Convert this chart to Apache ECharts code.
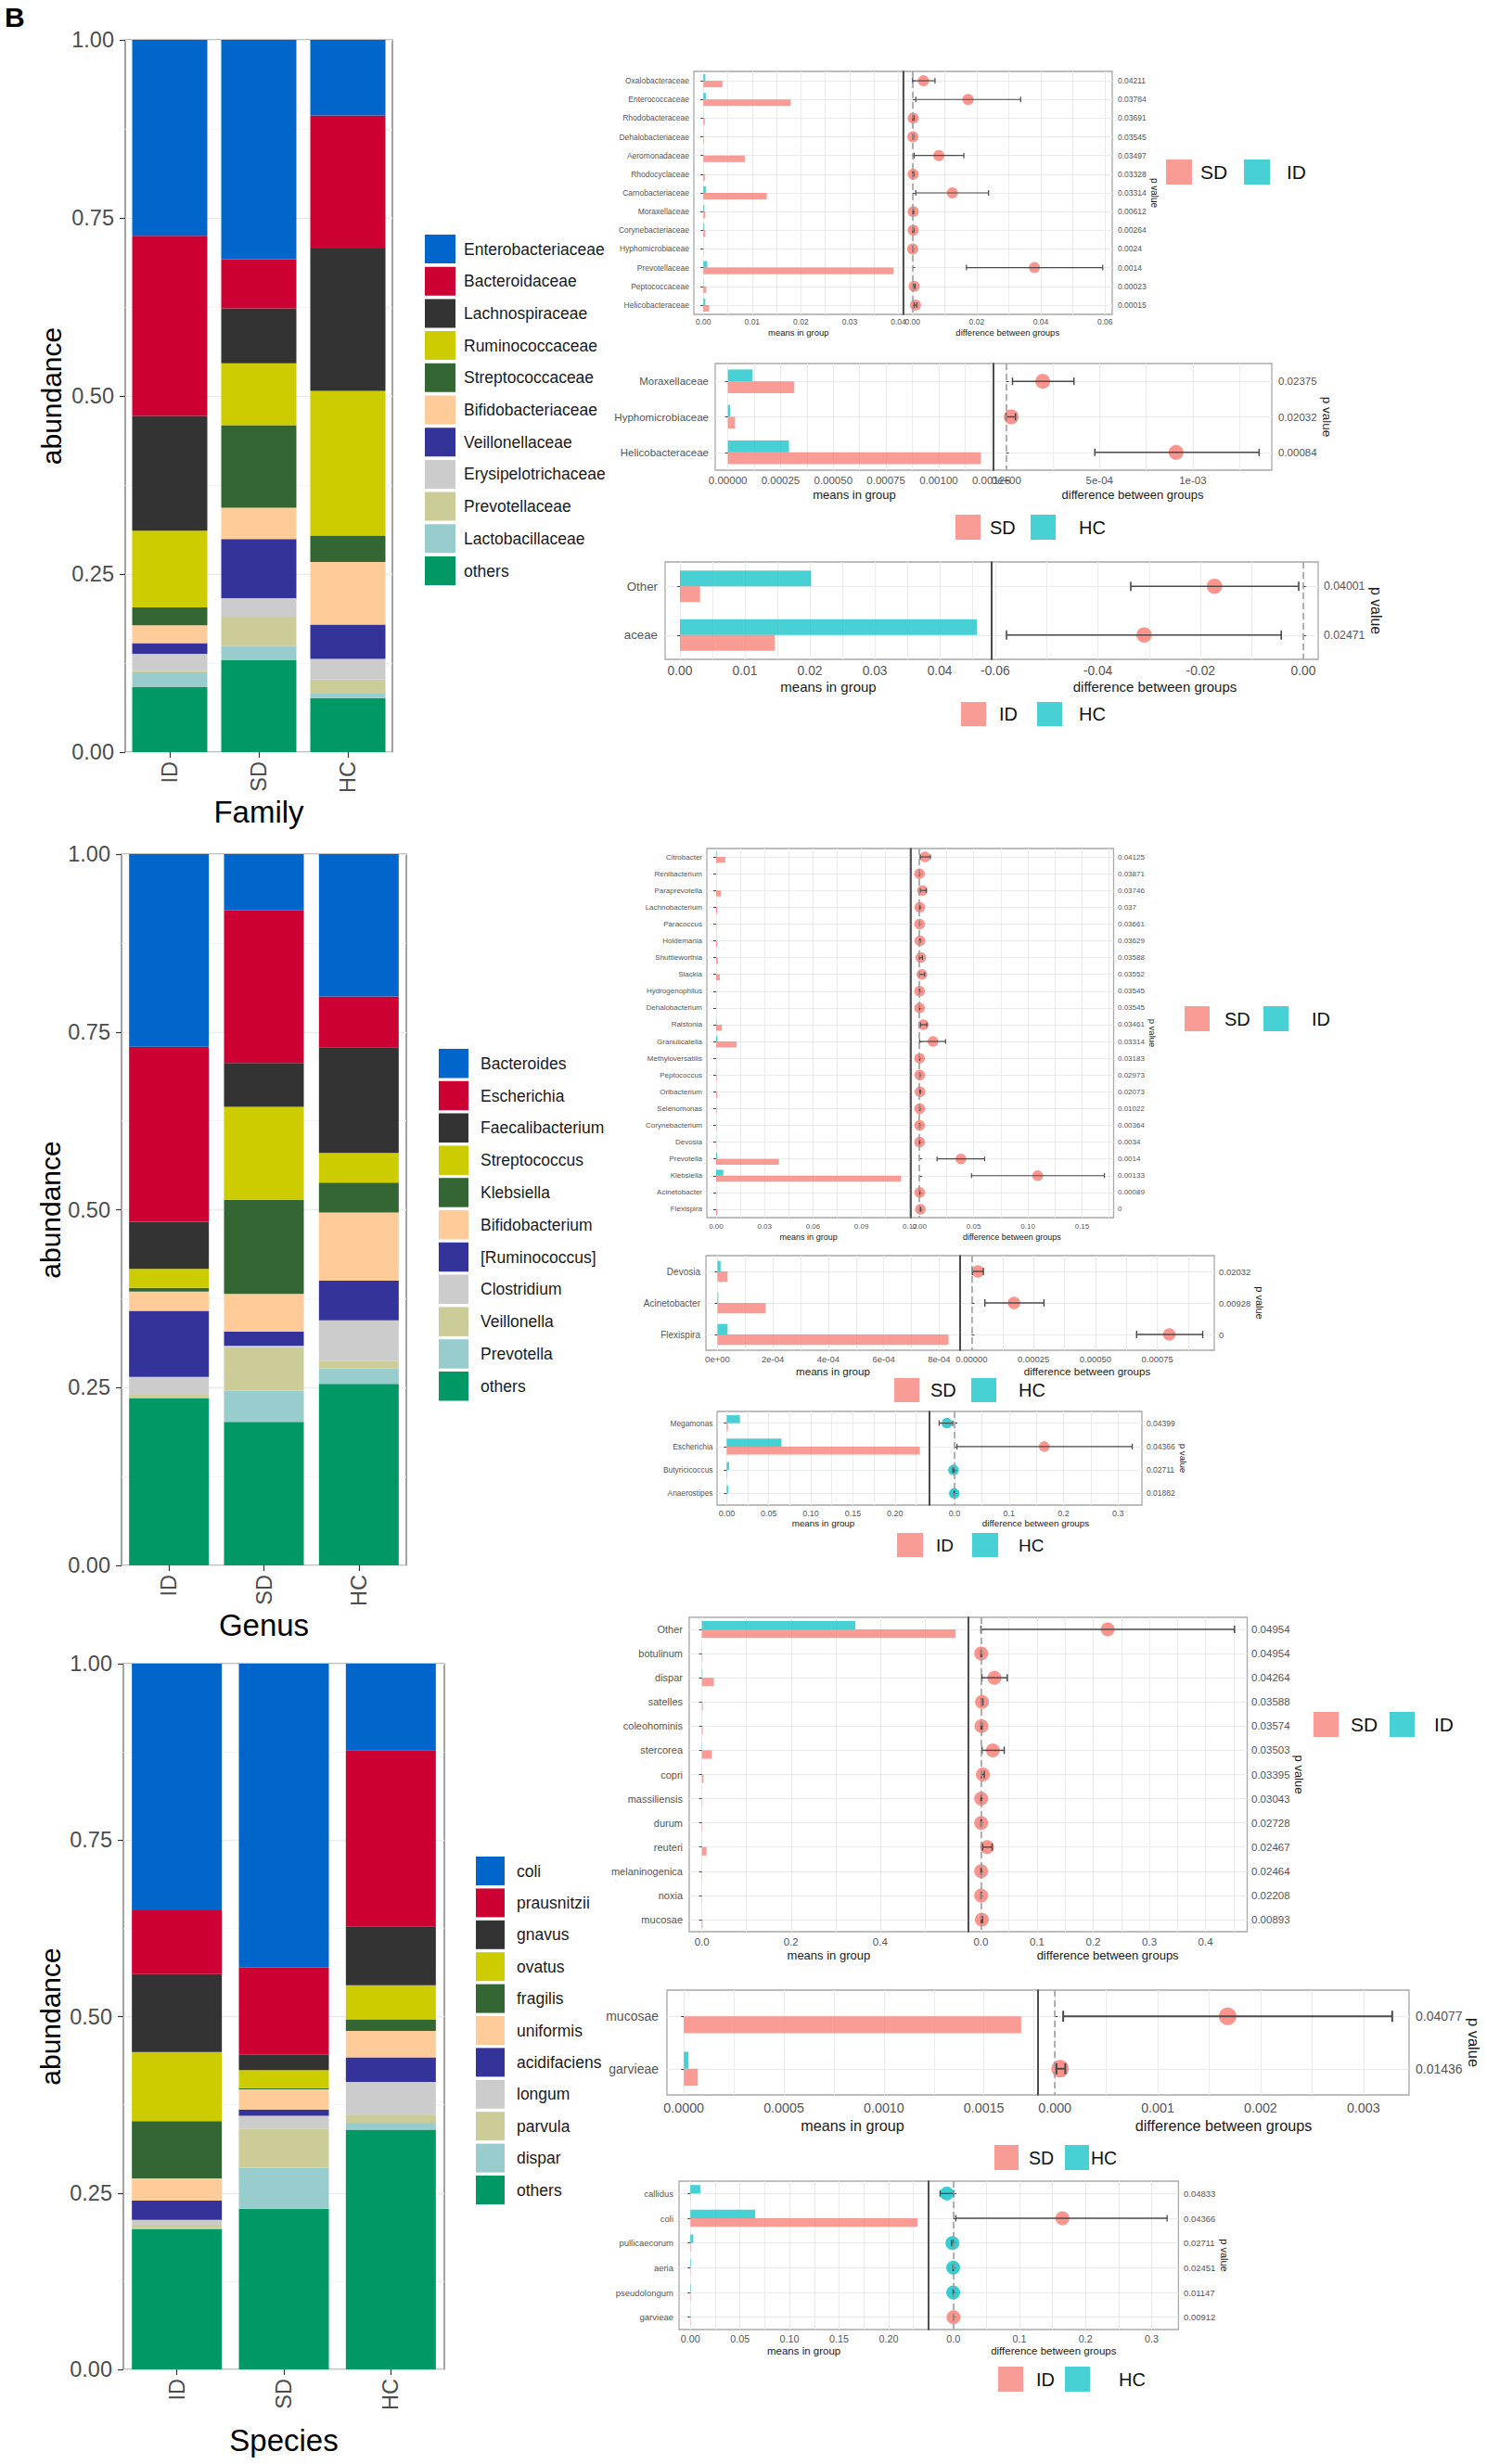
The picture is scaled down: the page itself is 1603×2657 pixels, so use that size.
<!DOCTYPE html>
<html><head><meta charset="utf-8">
<script src="https://cdn.jsdelivr.net/npm/echarts@6/dist/echarts.min.js"></script>
<style>html,body{margin:0;padding:0;background:#fff}#c{width:1603px;height:2657px}</style>
</head><body><div id="c"></div>
<script>
// ===================== DATA =====================
const groups = ['ID', 'SD', 'HC'];

// Family stacked bars (bottom -> top)
const fam_taxa = ['others','Lactobacillaceae','Prevotellaceae','Erysipelotrichaceae','Veillonellaceae','Bifidobacteriaceae','Streptococcaceae','Ruminococcaceae','Lachnospiraceae','Bacteroidaceae','Enterobacteriaceae'];
const fam_ID = [0.091, 0.021, 0.002, 0.024, 0.015, 0.025, 0.025, 0.108, 0.161, 0.253, 0.275];
const fam_SD = [0.129, 0.020, 0.041, 0.026, 0.083, 0.044, 0.116, 0.087, 0.077, 0.069, 0.308];
const fam_HC = [0.076, 0.006, 0.020, 0.029, 0.048, 0.088, 0.037, 0.203, 0.200, 0.187, 0.106];

// Genus stacked bars (bottom -> top)
const gen_taxa = ['others','Prevotella','Veillonella','Clostridium','[Ruminococcus]','Bifidobacterium','Klebsiella','Streptococcus','Faecalibacterium','Escherichia','Bacteroides'];
const gen_ID = [0.235, 0.001, 0.004, 0.025, 0.093, 0.027, 0.005, 0.027, 0.066, 0.246, 0.271];
const gen_SD = [0.2016, 0.0443, 0.0607, 0.0022, 0.0200, 0.0529, 0.1323, 0.1307, 0.0615, 0.2145, 0.0793];
const gen_HC = [0.2552, 0.0214, 0.0107, 0.0572, 0.0558, 0.0958, 0.0421, 0.0415, 0.1487, 0.0715, 0.2001];

// Species stacked bars (bottom -> top)
const sp_taxa = ['others','dispar','parvula','longum','acidifaciens','uniformis','fragilis','ovatus','gnavus','prausnitzii','coli'];
const sp_ID = [0.1992, 0.0008, 0.005, 0.007, 0.0271, 0.0316, 0.0812, 0.0977, 0.1105, 0.0902, 0.3497];
const sp_SD = [0.2278, 0.0579, 0.0549, 0.0188, 0.0090, 0.0286, 0.0015, 0.0256, 0.0218, 0.1233, 0.4308];
const sp_HC = [0.3398, 0.0098, 0.0113, 0.0466, 0.0346, 0.0376, 0.0165, 0.0482, 0.0834, 0.2496, 0.1226];

// ---- Family: SD vs ID ----
const famA_names = ['Oxalobacteraceae','Enterococcaceae','Rhodobacteraceae','Dehalobacteriaceae','Aeromonadaceae','Rhodocyclaceae','Carnobacteriaceae','Moraxellaceae','Corynebacteriaceae','Hyphomicrobiaceae','Prevotellaceae','Peptococcaceae','Helicobacteraceae'];
const famA_p = ['0.04211','0.03784','0.03691','0.03545','0.03497','0.03328','0.03314','0.00612','0.00264','0.0024','0.0014','0.00023','0.00015'];
const famA_SD = [0.0039, 0.0179, 0.0003, 0.0001, 0.0085, 0.0003, 0.0130, 0.0004, 0.0004, 0.00005, 0.0390, 0.0006, 0.0012];
const famA_ID = [0.0004, 0.0005, 0.00003, 0.00001, 0.00002, 0.00002, 0.0005, 0.0002, 0.0002, 0.00001, 0.0008, 0.00005, 0.0004];
const famA_diff = [0.0034, 0.0173, 0.0002, 0.0001, 0.0082, 0.0002, 0.0124, 0.0002, 0.0002, 0.00005, 0.0380, 0.0005, 0.0009];
const famA_lo = [0.0000, 0.0010, 0.0000, 0.0000, 0.0005, 0.0000, 0.0010, 0.0001, 0.0000, 0.0000, 0.0168, 0.0003, 0.0005];
const famA_hi = [0.0070, 0.0337, 0.0005, 0.0003, 0.0160, 0.0004, 0.0237, 0.0003, 0.0004, 0.0001, 0.0593, 0.0008, 0.0013];
const famA_dot = ['SD','SD','SD','SD','SD','SD','SD','SD','SD','SD','SD','SD','SD'];
const famA_meanTicks = [0, 0.01, 0.02, 0.03, 0.04];
const famA_meanLabels = ['0.00','0.01','0.02','0.03','0.04'];
const famA_diffTicks = [0, 0.02, 0.04, 0.06];
const famA_diffLabels = ['0.00','0.02','0.04','0.06'];

// ---- Family: SD vs HC ----
const famB_names = ['Moraxellaceae','Hyphomicrobiaceae','Helicobacteraceae'];
const famB_p = ['0.02375','0.02032','0.00084'];
const famB_SD = [0.000315, 0.000034, 0.00120];
const famB_HC = [0.000117, 0.000011, 0.00029];
const famB_diff = [0.000196, 0.000027, 0.00091];
const famB_lo = [0.000034, 0.0, 0.000475];
const famB_hi = [0.000363, 0.00005, 0.001355];
const famB_dot = ['SD','SD','SD'];
const famB_meanTicks = [0, 0.00025, 0.0005, 0.00075, 0.001, 0.00125];
const famB_meanLabels = ['0.00000','0.00025','0.00050','0.00075','0.00100','0.00125'];
const famB_diffTicks = [0, 0.0005, 0.001];
const famB_diffLabels = ['0e+00','5e-04','1e-03'];

// ---- Family: ID vs HC ----
const famC_names = ['Other','aceae'];
const famC_p = ['0.04001','0.02471'];
const famC_ID = [0.0031, 0.0146];
const famC_HC = [0.0202, 0.0457];
const famC_diff = [-0.0173, -0.0310];
const famC_lo = [-0.0336, -0.0578];
const famC_hi = [-0.0009, -0.0043];
const famC_dot = ['ID','ID'];
const famC_meanTicks = [0, 0.01, 0.02, 0.03, 0.04];
const famC_meanLabels = ['0.00','0.01','0.02','0.03','0.04'];
const famC_diffTicks = [-0.06, -0.04, -0.02, 0];
const famC_diffLabels = ['-0.06','-0.04','-0.02','0.00'];

// ---- Genus: SD vs ID ----
const genA_names = ['Citrobacter','Renibacterium','Paraprevotella','Lachnobacterium','Paracoccus','Holdemania','Shuttleworthia','Slackia','Hydrogenophilus','Dehalobacterium','Ralstonia','Granulicatella','Methyloversatilis','Peptococcus','Oribacterium','Selenomonas','Corynebacterium','Devosia','Prevotella','Klebsiella','Acinetobacter','Flexispira'];
const genA_p = ['0.04125','0.03871','0.03746','0.037','0.03661','0.03629','0.03588','0.03552','0.03545','0.03545','0.03461','0.03314','0.03183','0.02973','0.02073','0.01022','0.00364','0.0034','0.0014','0.00133','0.00089','0'];
const genA_SD = [0.0057, 0.0001, 0.0030, 0.0007, 0.0002, 0.0007, 0.0011, 0.0023, 0.0001, 0.0001, 0.0036, 0.0127, 0.0001, 0.0004, 0.0007, 0.0003, 0.0003, 0.0002, 0.0389, 0.1145, 0.0002, 0.0008];
const genA_ID = [0.0003, 0.0000, 0.0001, 0.0001, 0.0000, 0.0001, 0.0001, 0.0001, 0.0000, 0.0000, 0.0002, 0.0007, 0.0000, 0.0001, 0.0001, 0.0001, 0.0001, 0.0001, 0.0007, 0.0045, 0.0000, 0.0000];
const genA_diff = [0.0051, 0.0000, 0.0027, 0.0003, 0.0001, 0.0004, 0.0012, 0.0022, 0.0001, 0.0001, 0.0035, 0.0125, 0.0001, 0.0003, 0.0005, 0.0002, 0.0002, 0.0001, 0.0382, 0.1091, 0.0002, 0.0008];
const genA_lo = [0.0007, 0.0000, 0.0007, 0.0001, 0.0000, 0.0002, 0.0000, 0.0000, 0.0000, 0.0000, 0.0010, 0.0001, 0.0000, 0.0001, 0.0002, 0.0001, 0.0000, 0.0000, 0.0162, 0.0480, 0.0001, 0.0004];
const genA_hi = [0.0101, 0.0001, 0.0060, 0.0005, 0.0002, 0.0006, 0.0027, 0.0047, 0.0002, 0.0002, 0.0068, 0.0240, 0.0002, 0.0005, 0.0008, 0.0004, 0.0003, 0.0002, 0.0601, 0.1706, 0.0003, 0.0012];
const genA_dot = genA_names.map(() => 'SD');
const genA_meanTicks = [0, 0.03, 0.06, 0.09, 0.12];
const genA_meanLabels = ['0.00','0.03','0.06','0.09','0.12'];
const genA_diffTicks = [0, 0.05, 0.10, 0.15];
const genA_diffLabels = ['0.00','0.05','0.10','0.15'];

// ---- Genus: SD vs HC ----
const genB_names = ['Devosia','Acinetobacter','Flexispira'];
const genB_p = ['0.02032','0.00928','0'];
const genB_SD = [0.0000365, 0.000174, 0.000834];
const genB_HC = [0.0000112, 0.000003, 0.0000365];
const genB_diff = [0.000025, 0.000171, 0.000798];
const genB_lo = [0.000003, 0.0000533, 0.000666];
const genB_hi = [0.000047, 0.000292, 0.000933];
const genB_dot = ['SD','SD','SD'];
const genB_meanTicks = [0, 0.0002, 0.0004, 0.0006, 0.0008];
const genB_meanLabels = ['0e+00','2e-04','4e-04','6e-04','8e-04'];
const genB_diffTicks = [0, 0.00025, 0.0005, 0.00075];
const genB_diffLabels = ['0.00000','0.00025','0.00050','0.00075'];

// ---- Genus: ID vs HC ----
const genC_names = ['Megamonas','Escherichia','Butyricicoccus','Anaerostipes'];
const genC_p = ['0.04399','0.04366','0.02711','0.01882'];
const genC_ID = [0.0014, 0.2296, 0.0005, 0.0002];
const genC_HC = [0.0157, 0.0651, 0.0028, 0.0018];
const genC_diff = [-0.0142, 0.1645, -0.0021, -0.0007];
const genC_lo = [-0.0284, 0.0043, -0.0035, -0.0012];
const genC_hi = [-0.0035, 0.3260, -0.0008, -0.0002];
const genC_dot = ['HC','ID','HC','HC'];
const genC_meanTicks = [0, 0.05, 0.10, 0.15, 0.20];
const genC_meanLabels = ['0.00','0.05','0.10','0.15','0.20'];
const genC_diffTicks = [0, 0.1, 0.2, 0.3];
const genC_diffLabels = ['0.0','0.1','0.2','0.3'];

// ---- Species: SD vs ID ----
const spA_names = ['Other','botulinum','dispar','satelles','coleohominis','stercorea','copri','massiliensis','durum','reuteri','melaninogenica','noxia','mucosae'];
const spA_p = ['0.04954','0.04954','0.04264','0.03588','0.03574','0.03503','0.03395','0.03043','0.02728','0.02467','0.02464','0.02208','0.00893'];
const spA_SD = [0.569, 0.0010, 0.0268, 0.0020, 0.0020, 0.0222, 0.0035, 0.0010, 0.0010, 0.0105, 0.0005, 0.0005, 0.0017];
const spA_ID = [0.344, 0.0002, 0.0010, 0.0001, 0.0002, 0.0005, 0.0002, 0.0001, 0.0001, 0.0003, 0.0001, 0.0001, 0.0000];
const spA_diff = [0.2258, 0.0005, 0.0240, 0.0020, 0.0010, 0.0212, 0.0035, 0.0005, 0.0005, 0.0110, 0.0004, 0.0004, 0.0017];
const spA_lo = [0.0000, 0.0001, 0.0018, 0.0005, 0.0002, 0.0020, 0.0010, 0.0001, 0.0001, 0.0030, 0.0001, 0.0001, 0.0005];
const spA_hi = [0.4516, 0.0010, 0.0470, 0.0035, 0.0020, 0.0415, 0.0060, 0.0010, 0.0010, 0.0200, 0.0008, 0.0008, 0.0030];
const spA_dot = spA_names.map(() => 'SD');
const spA_meanTicks = [0, 0.2, 0.4];
const spA_meanLabels = ['0.0','0.2','0.4'];
const spA_diffTicks = [0, 0.1, 0.2, 0.3, 0.4];
const spA_diffLabels = ['0.0','0.1','0.2','0.3','0.4'];

// ---- Species: SD vs HC ----
const spB_names = ['mucosae','garvieae'];
const spB_p = ['0.04077','0.01436'];
const spB_SD = [0.001686, 0.0000701];
const spB_HC = [0.0, 0.0000234];
const spB_diff = [0.00168, 0.0000505];
const spB_lo = [0.0000808, 0.000015];
const spB_hi = [0.00328, 0.000101];
const spB_dot = ['SD','SD'];
const spB_meanTicks = [0, 0.0005, 0.001, 0.0015];
const spB_meanLabels = ['0.0000','0.0005','0.0010','0.0015'];
const spB_diffTicks = [0, 0.001, 0.002, 0.003];
const spB_diffLabels = ['0.000','0.001','0.002','0.003'];

// ---- Species: ID vs HC ----
const spC_names = ['callidus','coli','pullicaecorum','aeria','pseudolongum','garvieae'];
const spC_p = ['0.04833','0.04366','0.02711','0.02451','0.01147','0.00912'];
const spC_ID = [0.0002, 0.229, 0.0005, 0.0003, 0.0003, 0.0002];
const spC_HC = [0.0100, 0.0653, 0.0029, 0.0006, 0.0005, 0.0001];
const spC_diff = [-0.0100, 0.1650, -0.0016, -0.0004, -0.0003, 0.0001];
const spC_lo = [-0.0202, 0.0035, -0.0030, -0.0008, -0.0006, 0.0000];
const spC_hi = [0.0003, 0.3235, -0.0003, -0.0001, -0.0001, 0.0002];
const spC_dot = ['HC','ID','HC','HC','HC','ID'];
const spC_meanTicks = [0, 0.05, 0.10, 0.15, 0.20];
const spC_meanLabels = ['0.00','0.05','0.10','0.15','0.20'];
const spC_diffTicks = [0, 0.1, 0.2, 0.3];
const spC_diffLabels = ['0.0','0.1','0.2','0.3'];

// ===================== STYLE / LAYOUT =====================
const FONT = '"Liberation Sans", Arial, Helvetica, sans-serif';
const PALETTE = ['#009966','#99CCCC','#CCCC99','#CCCCCC','#333399','#FFCC99','#336633','#CCCC00','#333333','#CC0033','#0066CC']; // bottom -> top
const SAL = '#F8766D', CYA = '#00BFC4';
const GRIDC = '#ebebeb';

const grid = [], xAxis = [], yAxis = [], series = [], legend = [], graphic = [];

function addStack(c, taxa, vals, title) {
  const gi = grid.length;
  grid.push({left: c.left, top: c.top, width: c.width, height: c.height, show: true,
    borderColor: '#666', borderWidth: 1.2, backgroundColor: 'transparent', containLabel: false, outerBoundsMode: 'none'});
  const xi = xAxis.length;
  xAxis.push({type: 'category', gridIndex: gi, data: groups, position: 'bottom',
    axisLine: {show: false},
    axisTick: {show: true, alignWithLabel: true, length: 6, lineStyle: {color: '#333', width: 1.2}},
    axisLabel: {rotate: 90, fontSize: 23.5, color: '#4d4d4d', margin: 10, fontFamily: FONT},
    splitLine: {show: false},
    name: title, nameLocation: 'middle', nameGap: c.nameGapX,
    nameTextStyle: {fontSize: 33, color: '#000', fontFamily: FONT}});
  const yi = yAxis.length;
  yAxis.push({type: 'value', gridIndex: gi, min: 0, max: 1, interval: 0.25,
    axisLine: {show: false},
    axisTick: {show: true, length: 6, lineStyle: {color: '#333', width: 1.2}},
    axisLabel: {fontSize: 23.5, color: '#4d4d4d', margin: 12, fontFamily: FONT, formatter: v => v.toFixed(2)},
    splitLine: {show: true, lineStyle: {color: GRIDC, width: 1.3}},
    minorTick: {show: false, splitNumber: 2},
    minorSplitLine: {show: true, lineStyle: {color: '#f2f2f2', width: 0.8}},
    name: 'abundance', nameLocation: 'middle', nameGap: c.nameGapY,
    nameTextStyle: {fontSize: 30, color: '#000', fontFamily: FONT}});
  taxa.forEach((t, k) => {
    series.push({type: 'bar', name: t, xAxisIndex: xi, yAxisIndex: yi, stack: 'stk' + gi,
      barWidth: c.barWidth, data: vals.map(a => a[k]),
      itemStyle: {color: PALETTE[k]}, emphasis: {disabled: true}});
  });
  legend.push({orient: 'vertical', left: c.legLeft, top: c.legTop, padding: 0,
    itemWidth: c.keyW, itemHeight: c.keyH, itemGap: c.legGap, icon: 'rect', selectedMode: false,
    textStyle: {fontSize: 17.5, color: '#1a1a1a', fontFamily: FONT, padding: [0, 0, 0, c.textPad]},
    data: taxa.slice().reverse()});
}

function labelFor(ticks, labels) {
  return function (v) {
    let b = 0, bd = Infinity;
    ticks.forEach((t, i) => { const dd = Math.abs(t - v); if (dd < bd) { bd = dd; b = i; } });
    return labels[b];
  };
}
function withMinors(ticks, min, max) {
  const out = ticks.slice();
  const step = ticks[1] - ticks[0];
  for (let i = -1; i < ticks.length; i++) {
    const m = ticks[0] + (i + 0.5) * step;
    if (m > min && m < max) out.push(m);
  }
  return out.filter(v => v >= min && v <= max).sort((a, b) => a - b);
}

function addStamp(id, c, d, lg) {
  const mid = (c.L + c.R) / 2;
  const H = c.B - c.T;
  const n = d.names.length;
  const unit = H / (n + 0.2);
  const meanMax = Math.max(...d.g1, ...d.g2);
  const lmin = -0.05 * meanMax, lmax = 1.05 * meanMax;
  const lo0 = Math.min(0, ...d.lo), hi0 = Math.max(0, ...d.hi);
  const rr = hi0 - lo0;
  const rmin = lo0 - 0.05 * rr, rmax = hi0 + 0.05 * rr;

  const gL = grid.length;
  grid.push({left: c.L, top: c.T, width: mid - c.L, height: H, show: true, borderColor: '#a8a8a8', borderWidth: 1.3,
    containLabel: false, outerBoundsMode: 'none'});
  const gR = grid.length;
  grid.push({left: mid, top: c.T, width: c.R - mid, height: H, show: true, borderColor: '#a8a8a8', borderWidth: 1.3,
    containLabel: false, outerBoundsMode: 'none'});

  const tickLab = {fontSize: c.fTick, color: '#555', fontFamily: FONT, margin: c.tickMargin};
  const xL = xAxis.length;
  xAxis.push({type: 'value', gridIndex: gL, min: lmin, max: lmax,
    axisLine: {show: false},
    axisTick: {show: false, customValues: withMinors(d.mT, lmin, lmax)},
    axisLabel: Object.assign({customValues: d.mT, formatter: labelFor(d.mT, d.mL)}, tickLab),
    splitLine: {show: true, lineStyle: {color: GRIDC, width: 1}},
    name: 'means in group', nameLocation: 'middle', nameGap: c.titleGap,
    nameTextStyle: {fontSize: c.fTitle, color: '#1a1a1a', fontFamily: FONT}});
  const xR = xAxis.length;
  xAxis.push({type: 'value', gridIndex: gR, min: rmin, max: rmax,
    axisLine: {show: false},
    axisTick: {show: false, customValues: withMinors(d.dT, rmin, rmax)},
    axisLabel: Object.assign({customValues: d.dT, formatter: labelFor(d.dT, d.dL)}, tickLab),
    splitLine: {show: true, lineStyle: {color: GRIDC, width: 1}},
    name: 'difference between groups', nameLocation: 'middle', nameGap: c.titleGap,
    nameTextStyle: {fontSize: c.fTitle, color: '#1a1a1a', fontFamily: FONT}});
  const yL = yAxis.length;
  yAxis.push({type: 'category', gridIndex: gL, data: d.names, inverse: true, position: 'left',
    axisLine: {show: false},
    axisTick: {show: true, alignWithLabel: true, length: 3, lineStyle: {color: '#444', width: 1}},
    axisLabel: {interval: 0, fontSize: c.fCat, color: '#555', fontFamily: FONT, margin: c.catMargin},
    splitLine: {show: true, interval: 0, alignWithLabel: true, lineStyle: {color: GRIDC, width: 1}}});
  yAxis.push({type: 'category', gridIndex: gL, data: d.names, inverse: true, position: 'right',
    axisLine: {show: true, lineStyle: {color: '#333', width: 1.6}},
    axisTick: {show: false}, axisLabel: {show: false}, splitLine: {show: false}});
  const yR = yAxis.length;
  yAxis.push({type: 'category', gridIndex: gR, data: d.names, inverse: true, position: 'right',
    axisLine: {show: false},
    axisTick: {show: true, alignWithLabel: true, length: 3, lineStyle: {color: '#444', width: 1}},
    axisLabel: {interval: 0, fontSize: c.fP, color: '#555', fontFamily: FONT, margin: c.pMargin,
      formatter: (v, i) => d.p[i]},
    splitLine: {show: true, interval: 0, alignWithLabel: true, lineStyle: {color: GRIDC, width: 1}},
    name: 'p value', nameLocation: 'middle', nameRotate: -90, nameGap: c.ptGap,
    nameTextStyle: {fontSize: c.fPT, color: '#1a1a1a', fontFamily: FONT}});

  const bw = 0.355 * unit;
  series.push({type: 'bar', name: id + '-' + d.g2Name, xAxisIndex: xL, yAxisIndex: yL, data: d.g2,
    barWidth: bw, barGap: '0%', itemStyle: {color: CYA, opacity: 0.72}, emphasis: {disabled: true}});
  series.push({type: 'bar', name: id + '-' + d.g1Name, xAxisIndex: xL, yAxisIndex: yL, data: d.g1,
    barWidth: bw, barGap: '0%', itemStyle: {color: SAL, opacity: 0.72}, emphasis: {disabled: true}});

  series.push({type: 'scatter', name: id + '-diff', xAxisIndex: xR, yAxisIndex: yR, z: 2,
    symbol: 'circle', symbolSize: c.pt,
    data: d.diff.map((v, i) => ({value: [v, i], itemStyle: {color: d.dot[i] === d.g1Name ? SAL : CYA, opacity: 0.78}})),
    emphasis: {disabled: true},
    markLine: {silent: true, symbol: ['none', 'none'], label: {show: false},
      lineStyle: {color: '#9a9a9a', type: [7, 4], width: 1.5}, data: [{xAxis: 0}]}});

  const cap = c.cap, lw = c.lw;
  series.push({type: 'custom', name: id + '-ci', xAxisIndex: xR, yAxisIndex: yR, z: 3,
    data: d.lo.map((v, i) => [v, d.hi[i], i]),
    encode: {x: [0, 1], y: 2},
    renderItem: function (params, api) {
      const a = api.coord([api.value(0), api.value(2)]);
      const b = api.coord([api.value(1), api.value(2)]);
      const st = {stroke: '#4a4a4a', lineWidth: lw};
      return {type: 'group', children: [
        {type: 'line', shape: {x1: a[0], y1: a[1], x2: b[0], y2: b[1]}, style: st},
        {type: 'line', shape: {x1: a[0], y1: a[1] - cap, x2: a[0], y2: a[1] + cap}, style: st},
        {type: 'line', shape: {x1: b[0], y1: b[1] - cap, x2: b[0], y2: b[1] + cap}, style: st}
      ]};
    }});

  [[lg.k1, lg.t1, d.g1Name, SAL], [lg.k2, lg.t2, d.g2Name, CYA]].forEach(([kx, tx, name, col]) => {
    graphic.push({type: 'rect', x: kx, y: lg.y, shape: {x: 0, y: 0, width: lg.w, height: lg.h},
      style: {fill: col, opacity: 0.72}, silent: true});
    graphic.push({type: 'text', x: tx, y: lg.y + lg.h / 2, silent: true,
      style: {text: name, fontSize: lg.f, fontFamily: FONT, fill: '#111', align: 'left', verticalAlign: 'middle'}});
  });
}

addStack({left: 135, top: 43, width: 288, height: 768, barWidth: 81, nameGapX: 45, nameGapY: 65,
  legLeft: 458, legTop: 253, keyW: 33, keyH: 31, legGap: 3.7, textPad: 4}, fam_taxa, [fam_ID, fam_SD, fam_HC], 'Family');
addStack({left: 131, top: 921, width: 307, height: 767, barWidth: 86, nameGapX: 40, nameGapY: 62,
  legLeft: 473, legTop: 1131, keyW: 32, keyH: 31.5, legGap: 3.3, textPad: 8}, gen_taxa, [gen_ID, gen_SD, gen_HC], 'Genus');
addStack({left: 133, top: 1794, width: 346, height: 761, barWidth: 97, nameGapX: 60, nameGapY: 64,
  legLeft: 513, legTop: 2002, keyW: 31, keyH: 31, legGap: 3.4, textPad: 8}, sp_taxa, [sp_ID, sp_SD, sp_HC], 'Species');

addStamp('famA', {L: 748, R: 1199, T: 77, B: 339, fCat: 8.5, fTick: 8.5, fTitle: 9.5, fP: 8.5, fPT: 10, ptGap: 36,
  catMargin: 5, tickMargin: 3.5, titleGap: 14, pMargin: 6, pt: 12, cap: 3, lw: 1.2},
  {names: famA_names, p: famA_p, g1: famA_SD, g2: famA_ID, g1Name: 'SD', g2Name: 'ID', diff: famA_diff, lo: famA_lo, hi: famA_hi,
   dot: famA_dot, mT: famA_meanTicks, mL: famA_meanLabels, dT: famA_diffTicks, dL: famA_diffLabels},
  {k1: 1257, t1: 1294, k2: 1341, t2: 1387, y: 172, w: 28, h: 27, f: 21});
addStamp('famB', {L: 771, R: 1371, T: 392, B: 507, fCat: 11.5, fTick: 11.5, fTitle: 13, fP: 11.5, fPT: 13.5, ptGap: 48,
  catMargin: 7, tickMargin: 5, titleGap: 19.5, pMargin: 7, pt: 16, cap: 4, lw: 1.5},
  {names: famB_names, p: famB_p, g1: famB_SD, g2: famB_HC, g1Name: 'SD', g2Name: 'HC', diff: famB_diff, lo: famB_lo, hi: famB_hi,
   dot: famB_dot, mT: famB_meanTicks, mL: famB_meanLabels, dT: famB_diffTicks, dL: famB_diffLabels},
  {k1: 1030, t1: 1067, k2: 1111, t2: 1163, y: 555, w: 27, h: 27, f: 20});
addStamp('famC', {L: 717, R: 1421, T: 606, B: 711, fCat: 13.3, fTick: 13.8, fTitle: 15, fP: 12.3, fPT: 15.8, ptGap: 51,
  catMargin: 8, tickMargin: 5, titleGap: 21.5, pMargin: 6, pt: 16.5, cap: 5, lw: 1.6},
  {names: famC_names, p: famC_p, g1: famC_ID, g2: famC_HC, g1Name: 'ID', g2Name: 'HC', diff: famC_diff, lo: famC_lo, hi: famC_hi,
   dot: famC_dot, mT: famC_meanTicks, mL: famC_meanLabels, dT: famC_diffTicks, dL: famC_diffLabels},
  {k1: 1036, t1: 1077, k2: 1118, t2: 1163, y: 757, w: 27, h: 26, f: 20});
addStamp('genA', {L: 762, R: 1200.5, T: 915, B: 1313, fCat: 8, fTick: 8, fTitle: 9, fP: 8, fPT: 9.5, ptGap: 34,
  catMargin: 5, tickMargin: 5, titleGap: 16.5, pMargin: 4.5, pt: 11.5, cap: 2.5, lw: 1.2},
  {names: genA_names, p: genA_p, g1: genA_SD, g2: genA_ID, g1Name: 'SD', g2Name: 'ID', diff: genA_diff, lo: genA_lo, hi: genA_hi,
   dot: genA_dot, mT: genA_meanTicks, mL: genA_meanLabels, dT: genA_diffTicks, dL: genA_diffLabels},
  {k1: 1277, t1: 1320, k2: 1362, t2: 1414, y: 1085, w: 27, h: 27, f: 20});
addStamp('genB', {L: 761, R: 1309, T: 1354, B: 1456, fCat: 10, fTick: 9.5, fTitle: 11.6, fP: 9.5, fPT: 11, ptGap: 40,
  catMargin: 6, tickMargin: 4, titleGap: 16, pMargin: 5, pt: 13.5, cap: 4, lw: 1.4},
  {names: genB_names, p: genB_p, g1: genB_SD, g2: genB_HC, g1Name: 'SD', g2Name: 'HC', diff: genB_diff, lo: genB_lo, hi: genB_hi,
   dot: genB_dot, mT: genB_meanTicks, mL: genB_meanLabels, dT: genB_diffTicks, dL: genB_diffLabels},
  {k1: 964, t1: 1003, k2: 1047, t2: 1098, y: 1486, w: 27, h: 26, f: 20});
addStamp('genC', {L: 773, R: 1231, T: 1522, B: 1623, fCat: 8.4, fTick: 9, fTitle: 9.8, fP: 8.5, fPT: 9.8, ptGap: 36,
  catMargin: 4.5, tickMargin: 4.5, titleGap: 14, pMargin: 5, pt: 11.5, cap: 3, lw: 1.2},
  {names: genC_names, p: genC_p, g1: genC_ID, g2: genC_HC, g1Name: 'ID', g2Name: 'HC', diff: genC_diff, lo: genC_lo, hi: genC_hi,
   dot: genC_dot, mT: genC_meanTicks, mL: genC_meanLabels, dT: genC_diffTicks, dL: genC_diffLabels},
  {k1: 967, t1: 1009, k2: 1048, t2: 1098, y: 1653, w: 28, h: 26, f: 19});
addStamp('spA', {L: 743, R: 1344.5, T: 1744, B: 2083, fCat: 11, fTick: 11.5, fTitle: 13, fP: 11.5, fPT: 13, ptGap: 45,
  catMargin: 7, tickMargin: 5, titleGap: 18.5, pMargin: 4.5, pt: 15, cap: 4, lw: 1.5},
  {names: spA_names, p: spA_p, g1: spA_SD, g2: spA_ID, g1Name: 'SD', g2Name: 'ID', diff: spA_diff, lo: spA_lo, hi: spA_hi,
   dot: spA_dot, mT: spA_meanTicks, mL: spA_meanLabels, dT: spA_diffTicks, dL: spA_diffLabels},
  {k1: 1416, t1: 1456, k2: 1498, t2: 1546, y: 1846, w: 27, h: 27, f: 21});
addStamp('spB', {L: 719, R: 1519, T: 2146, B: 2259, fCat: 14, fTick: 14.3, fTitle: 16.2, fP: 14, fPT: 16.5, ptGap: 50,
  catMargin: 9, tickMargin: 7, titleGap: 25, pMargin: 7, pt: 19, cap: 6, lw: 2},
  {names: spB_names, p: spB_p, g1: spB_SD, g2: spB_HC, g1Name: 'SD', g2Name: 'HC', diff: spB_diff, lo: spB_lo, hi: spB_hi,
   dot: spB_dot, mT: spB_meanTicks, mL: spB_meanLabels, dT: spB_diffTicks, dL: spB_diffLabels},
  {k1: 1072, t1: 1109, k2: 1148, t2: 1176, y: 2313, w: 26, h: 27, f: 19.5});
addStamp('spC', {L: 732, R: 1270.4, T: 2352, B: 2512, fCat: 9.5, fTick: 10.8, fTitle: 11.5, fP: 9.5, fPT: 11, ptGap: 39,
  catMargin: 6, tickMargin: 4.6, titleGap: 17, pMargin: 5.6, pt: 15, cap: 3.5, lw: 1.3},
  {names: spC_names, p: spC_p, g1: spC_ID, g2: spC_HC, g1Name: 'ID', g2Name: 'HC', diff: spC_diff, lo: spC_lo, hi: spC_hi,
   dot: spC_dot, mT: spC_meanTicks, mL: spC_meanLabels, dT: spC_diffTicks, dL: spC_diffLabels},
  {k1: 1076, t1: 1117, k2: 1148, t2: 1206, y: 2552, w: 27, h: 27, f: 20});

const chart = echarts.init(document.getElementById('c'), null, {renderer: 'svg', width: 1603, height: 2657});
chart.setOption({
  animation: false,
  backgroundColor: '#ffffff',
  textStyle: {fontFamily: FONT},
  title: {text: 'B', left: 5, top: 3, padding: 0,
    textStyle: {fontSize: 30, fontWeight: 'bold', color: '#000', fontFamily: FONT}},
  tooltip: {show: false},
  grid: grid, xAxis: xAxis, yAxis: yAxis, legend: legend, series: series, graphic: graphic
});
</script>
</body></html>
